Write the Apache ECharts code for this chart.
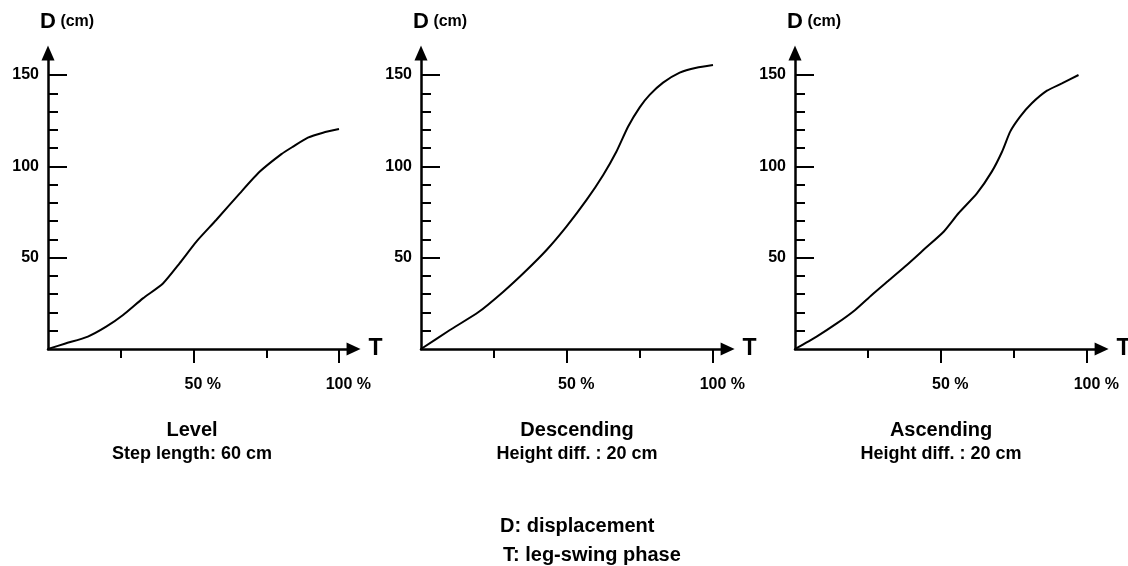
<!DOCTYPE html>
<html>
<head>
<meta charset="utf-8">
<script src="https://cdn.jsdelivr.net/npm/echarts@6/dist/echarts.min.js"></script>
<style>
html,body{margin:0;padding:0;background:#fff;}
#chart{width:1128px;height:566px;}
</style>
</head>
<body>
<div id="chart"></div>
<script>
// ---- data ----
const T_LEVEL = [0, 6, 13.7, 20, 25.8, 32.6, 39.5, 45.2, 51, 57.8, 65.9, 72.7, 80.2, 84.2, 89.3, 94.5, 100];
const D_LEVEL = [0, 3, 6.8, 12.2, 18.6, 27.7, 35.9, 46.9, 58.8, 70.6, 85.2, 97, 106.7, 110.8, 115.7, 118.4, 120.4];

const T_DESC = [0, 9.9, 19.6, 28.2, 35.6, 43, 49.8, 56.7, 62.4, 66.9, 70.9, 74.9, 78.3, 82.9, 88.6, 94.3, 100];
const D_DESC = [0, 10.4, 20.1, 31.4, 42.3, 54.2, 67, 81.6, 95.3, 108, 121.7, 132.3, 139.1, 145.8, 151.3, 154, 155.5];

const T_ASC = [0, 7.4, 14.3, 20.6, 26.3, 32, 38.3, 44.6, 50.9, 56, 62.3, 67.4, 70.9, 73.7, 77.1, 81.1, 86.3, 91.4, 97.1];
const D_ASC = [0, 6.8, 14, 21.4, 29.6, 37.4, 46, 55.1, 64.2, 74.3, 85.2, 97.1, 108, 119, 127.2, 134.5, 141.4, 145.4, 150];

const PANEL_TITLES = ['Level', 'Descending', 'Ascending'];
const PANEL_SUBTITLES = ['Step length: 60 cm', 'Height diff. : 20 cm', 'Height diff. : 20 cm'];

const X_MAJOR_TICKS = [50, 100];
const X_MINOR_TICKS = [25, 75];
const Y_MAJOR_TICKS = [50, 100, 150];
const Y_MINOR_TICKS = [10, 20, 30, 40, 60, 70, 80, 90, 110, 120, 130, 140];

const X_NAME = 'T';
const Y_NAME = 'D';
const Y_UNIT = '(cm)';
const NOTE_LINES = ['D: displacement', 'T: leg-swing phase'];

// ---- layout ----
const FONT = '"Liberation Sans", Arial, Helvetica, sans-serif';
const X_MAX = 105, Y_MAX = 162;
const PANELS = [
  { t: T_LEVEL, d: D_LEVEL, left: 48, pxPerT: 2.91, cx: 192 },
  { t: T_DESC, d: D_DESC, left: 421, pxPerT: 2.92, cx: 577 },
  { t: T_ASC, d: D_ASC, left: 795, pxPerT: 2.92, cx: 941 }
];
const ORIGIN_Y = 349, PX_PER_D = 1.8267;
const GRID_TOP = ORIGIN_Y - Y_MAX * PX_PER_D;
const GRID_H = Y_MAX * PX_PER_D;

const grids = [], xAxes = [], yAxes = [], series = [], graphics = [];

PANELS.forEach((p, i) => {
  grids.push({
    left: p.left, top: GRID_TOP, width: X_MAX * p.pxPerT, height: GRID_H,
    containLabel: false, outerBoundsMode: 'none', show: false
  });
  // main x axis: line + arrow + major ticks + labels
  xAxes.push({
    type: 'value', gridIndex: i, min: 0, max: X_MAX, position: 'bottom',
    name: X_NAME, nameLocation: 'end', nameGap: 15,
    nameTextStyle: { fontFamily: FONT, fontSize: 23, fontWeight: 'bold', color: '#000', verticalAlign: 'middle' },
    axisLine: { show: true, onZero: false, symbol: ['none', 'triangle'], symbolSize: [13, 14],
      lineStyle: { color: '#000', width: 2.5 } },
    axisTick: { show: true, inside: false, length: 14, customValues: X_MAJOR_TICKS,
      lineStyle: { color: '#000', width: 2 } },
    axisLabel: { show: true, customValues: X_MAJOR_TICKS, margin: 28,
      fontFamily: FONT, fontSize: 16, fontWeight: 'bold', color: '#000',
      formatter: v => '{h| %}' + v + ' %',
      rich: { h: { fontFamily: FONT, fontSize: 16, fontWeight: 'bold', color: 'rgba(0,0,0,0)' } } },
    splitLine: { show: false }
  });
  // secondary x axis: minor ticks only
  xAxes.push({
    type: 'value', gridIndex: i, min: 0, max: X_MAX, position: 'bottom',
    axisLine: { show: false, onZero: false },
    axisTick: { show: true, inside: false, length: 9, customValues: X_MINOR_TICKS,
      lineStyle: { color: '#000', width: 2 } },
    axisLabel: { show: false },
    splitLine: { show: false }
  });
  // main y axis
  yAxes.push({
    type: 'value', gridIndex: i, min: 0, max: Y_MAX, position: 'left',
    name: '{h|' + Y_UNIT + ' }{d|' + Y_NAME + '}{u| ' + Y_UNIT + '}',
    nameLocation: 'end', nameGap: 20,
    nameTextStyle: {
      fontFamily: FONT, fontWeight: 'bold', fontSize: 16, color: '#000',
      rich: {
        d: { fontFamily: FONT, fontSize: 22, fontWeight: 'bold', color: '#000' },
        u: { fontFamily: FONT, fontSize: 16, fontWeight: 'bold', color: '#000' },
        h: { fontFamily: FONT, fontSize: 16, fontWeight: 'bold', color: 'rgba(0,0,0,0)' }
      }
    },
    axisLine: { show: true, onZero: false, symbol: ['none', 'triangle'], symbolSize: [13, 15],
      lineStyle: { color: '#000', width: 2.5 } },
    axisTick: { show: true, inside: true, length: 19, customValues: Y_MAJOR_TICKS,
      lineStyle: { color: '#000', width: 2 } },
    axisLabel: { show: true, customValues: Y_MAJOR_TICKS, margin: 9,
      fontFamily: FONT, fontSize: 16, fontWeight: 'bold', color: '#000' },
    splitLine: { show: false }
  });
  // secondary y axis: minor ticks
  yAxes.push({
    type: 'value', gridIndex: i, min: 0, max: Y_MAX, position: 'left',
    axisLine: { show: false, onZero: false },
    axisTick: { show: true, inside: true, length: 10, customValues: Y_MINOR_TICKS,
      lineStyle: { color: '#000', width: 2 } },
    axisLabel: { show: false },
    splitLine: { show: false }
  });
  series.push({
    type: 'line', xAxisIndex: 2 * i, yAxisIndex: 2 * i,
    data: p.t.map((t, k) => [t, p.d[k]]),
    showSymbol: false, symbol: 'none', smooth: 0.2,
    lineStyle: { color: '#000', width: 2 },
    silent: true
  });
  graphics.push({
    type: 'text', x: p.cx, y: 430,
    style: { text: PANEL_TITLES[i], font: 'bold 20px ' + FONT, fill: '#000', textAlign: 'center', textVerticalAlign: 'middle' }
  });
  graphics.push({
    type: 'text', x: p.cx, y: 454,
    style: { text: PANEL_SUBTITLES[i], font: 'bold 18px ' + FONT, fill: '#000', textAlign: 'center', textVerticalAlign: 'middle' }
  });
});

graphics.push({
  type: 'text', x: 500, y: 526,
  style: { text: NOTE_LINES[0], font: 'bold 20px ' + FONT, fill: '#000', textAlign: 'left', textVerticalAlign: 'middle' }
});
graphics.push({
  type: 'text', x: 503, y: 555,
  style: { text: NOTE_LINES[1], font: 'bold 20px ' + FONT, fill: '#000', textAlign: 'left', textVerticalAlign: 'middle' }
});

const chart = echarts.init(document.getElementById('chart'), null, { renderer: 'canvas' });
chart.setOption({
  animation: false,
  backgroundColor: '#fff',
  grid: grids,
  xAxis: xAxes,
  yAxis: yAxes,
  series: series,
  graphic: graphics
});
</script>
</body>
</html>
